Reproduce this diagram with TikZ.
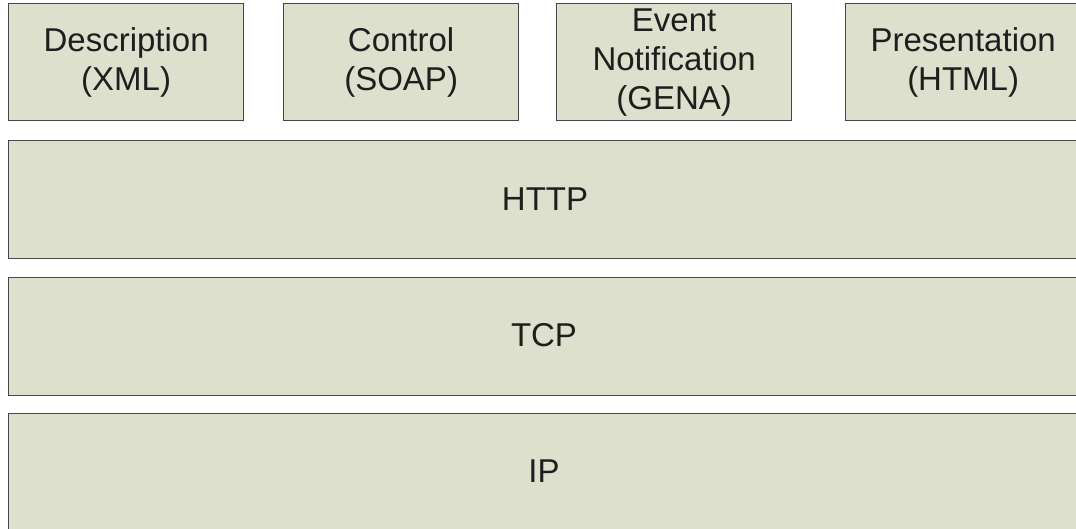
\documentclass[tikz,border=0pt]{standalone}
\usepackage{fontspec}
\setmainfont{Liberation Sans}
\definecolor{boxfill}{RGB}{221,224,204}
\definecolor{boxline}{RGB}{70,70,70}
\definecolor{txt}{RGB}{30,30,30}
\begin{document}
\begin{tikzpicture}[x=1pt,y=-1pt,
  lbl/.style={text=txt,align=center,font=\fontsize{33}{39}\selectfont},
  layer/.style={lbl,draw=boxline,fill=boxfill,line width=1.3pt,rectangle,inner sep=0pt,anchor=north west},
  top/.style={layer,minimum width=235pt,minimum height=117pt},
  band/.style={layer,minimum width=1080pt,minimum height=118pt}]
\useasboundingbox (0,0) rectangle (1076,528);
\clip (0,0) rectangle (1076,528);
\node[top] (desc) at (8,3) {Description\\(XML)};
\node[top] (ctrl) at (283,3) {Control\\(SOAP)};
\node[top] (event) at (556,3) {Event\\Notification\\(GENA)};
\node[top] (pres) at (845,3) {Presentation\\(HTML)};
\node[band] (http) at (8,140) {};
\node[band] (tcp) at (8,277) {};
\node[band] (ip) at (8,413) {};
\node[lbl] (httpl) at (545,199) {HTTP};
\node[lbl] (tcpl) at (544,335) {TCP};
\node[lbl] (ipl) at (544,471) {IP};
\end{tikzpicture}
\end{document}
